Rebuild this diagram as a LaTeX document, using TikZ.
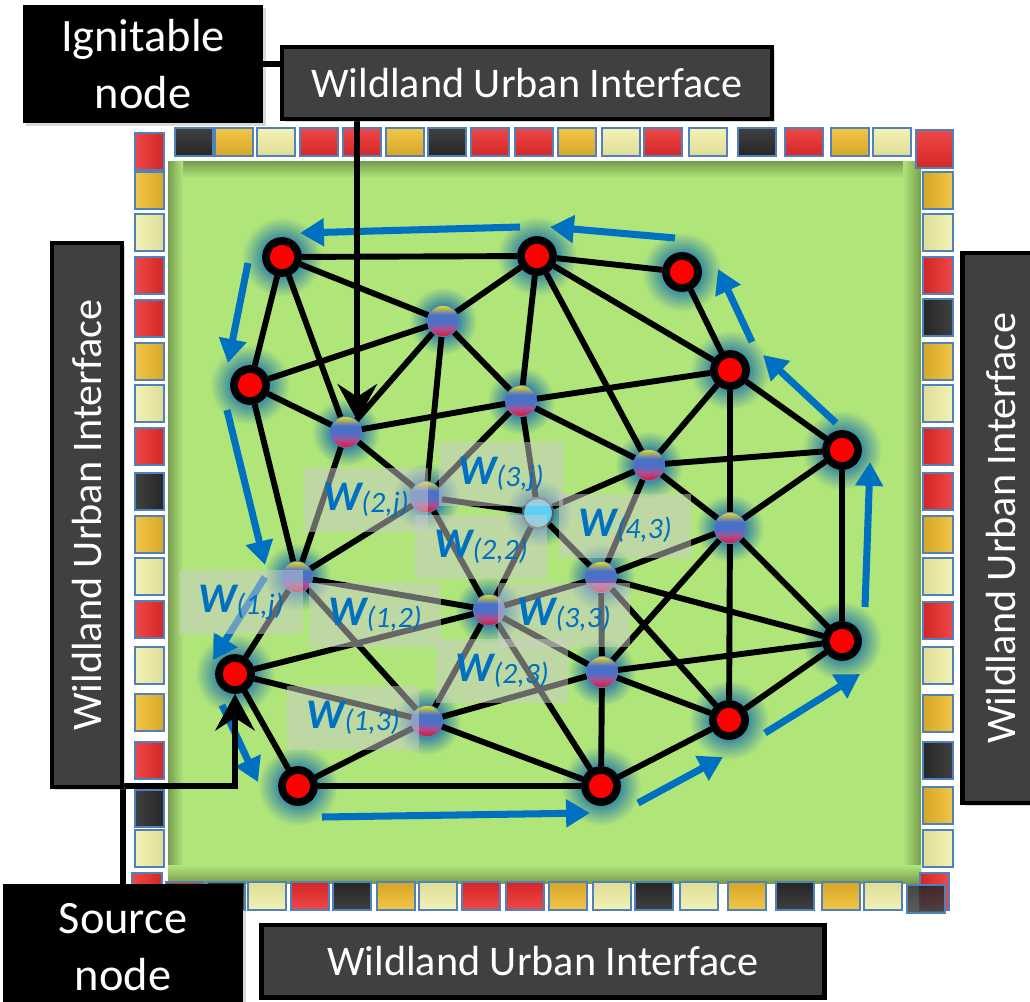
\documentclass[tikz,border=0pt]{standalone}
\usepackage{fontspec}
\setmainfont{Carlito}
\usetikzlibrary{arrows.meta, backgrounds, shadows}

\definecolor{FG}{RGB}{176,229,122}
\definecolor{SG}{RGB}{118,156,78}
\definecolor{HC}{RGB}{62,140,158}
\definecolor{FB}{RGB}{0,112,192}
\definecolor{WG}{RGB}{64,64,64}
\definecolor{TE}{RGB}{79,129,189}
\definecolor{NB}{RGB}{95,208,245}
\definecolor{NE}{RGB}{90,90,90}
\definecolor{LBX}{RGB}{205,205,205}
\definecolor{GY}{RGB}{232,222,30}
\definecolor{GB}{RGB}{75,112,200}
\definecolor{GP}{RGB}{165,80,150}
\definecolor{GR}{RGB}{225,20,45}
\definecolor{rdA}{RGB}{238,72,72}
\definecolor{rdB}{RGB}{212,38,38}
\definecolor{gdA}{RGB}{242,198,72}
\definecolor{gdB}{RGB}{214,166,38}
\definecolor{ltA}{RGB}{242,242,182}
\definecolor{ltB}{RGB}{222,220,150}
\definecolor{dkA}{RGB}{64,64,64}
\definecolor{dkB}{RGB}{38,38,38}

\pgfdeclareverticalshading{ybr}{100bp}{color(0bp)=(GR); color(25bp)=(GR); color(38bp)=(GP); color(48bp)=(GB); color(60bp)=(GB); color(75bp)=(GY); color(100bp)=(GY)}
\pgfdeclareradialshading{halo}{\pgfpoint{0bp}{0bp}}{color(0bp)=(HC); color(12bp)=(HC); color(25bp)=(FG); color(50bp)=(FG)}

\newcommand{\wlab}[1]{{\fontsize{30}{32}\selectfont\bfseries\itshape W}\raisebox{-1.5pt}{\fontsize{21}{24}\selectfont\itshape(#1)}}

\begin{document}
\begin{tikzpicture}[x=0.025cm, y=-0.025cm,
  hot/.style={circle, draw=black, fill=red, line width=5.5pt, minimum size=0.8cm, inner sep=0},
  cool/.style={circle, draw=TE, line width=0.6pt, shading=ybr, minimum size=0.78cm, inner sep=0},
  link/.style={line width=4.2pt, draw=black},
  flow/.style={draw=FB, line width=5pt, -{Triangle[length=17pt, width=19pt]}},
  tile/.style={draw=TE, line width=0.9pt, top color=#1A, bottom color=#1B},
  wbox/.style={fill=LBX, fill opacity=0.5, text opacity=1, text=FB, minimum width=3.3cm, minimum height=1.6cm, inner sep=0},
  wui/.style={fill=WG, draw=black, line width=3pt, text=white, font=\fontsize{30}{36}\selectfont, inner sep=0,
    drop shadow={opacity=0.3, shadow xshift=2pt, shadow yshift=-2pt}},
  tag/.style={fill=black, text=white, align=center, font=\fontsize{33}{40}\selectfont, inner sep=0,
    drop shadow={opacity=0.3, shadow xshift=2pt, shadow yshift=-2pt}},
  callout/.style={line width=4.2pt, draw=black, -{Stealth[length=26pt, width=28pt, inset=9pt]}}
]
\useasboundingbox (0,0) rectangle (1030,1001);
\clip (0,0) rectangle (1030,1001);

% Field with inner shadow
\begin{scope}[on background layer]
\fill[FG] (168,161) rectangle (921,883);
\shade[top color=SG, bottom color=FG] (168,161) rectangle (921,178);
\shade[left color=SG, right color=FG] (168,161) rectangle (183,883);
\shade[left color=FG, right color=SG] (903,161) rectangle (921,883);
\shade[top color=FG, bottom color=SG] (168,865) rectangle (921,883);
\end{scope}

% Interface tiles
\foreach \x/\c in {175/dk,215/gd,257/lt,300/rd,343/rd,386/gd,428/dk,471/rd,515/rd,558/gd,602/lt,644/rd,689/lt,738/dk,785/rd,831/gd,873/lt}
  \draw[tile=\c] (\x,128) rectangle ++(38,28);
\foreach \y/\c in {133/rd,172/gd,214/lt,257/rd,300/rd,343/gd,385/lt,428/rd,473/dk,516/gd,558/lt,601/rd,647/lt,694/gd,742/rd,790/dk,830/lt}
  \draw[tile=\c, shading angle=90] (135,\y) rectangle ++(29,37);
\foreach \y/\c in {172/gd,214/lt,257/rd,299/dk,343/gd,385/lt,428/rd,473/rd,516/gd,558/lt,602/rd,647/lt,695/gd,742/dk,787/gd,830/lt}
  \draw[tile=\c, shading angle=-90] (923,\y) rectangle ++(30,37);
\foreach \x/\c in {166/rd,207/dk,248/lt,291/rd,333/dk,377/gd,419/lt,462/rd,506/rd,549/gd,593/lt,635/dk,680/lt,728/gd,776/dk,822/gd,864/lt}
  \draw[tile=\c, shading angle=180] (\x,882) rectangle ++(38,28);
\draw[tile=rd] (916,130) rectangle ++(37,38);
\draw[tile=rd, shading angle=90] (132,873) rectangle ++(30,37);
\draw[tile=rd, shading angle=-90] (920,873) rectangle ++(29,37);
\draw[tile=dk, shading angle=180, fill opacity=0.85] (907,885) rectangle ++(38,28);

% Graph nodes
\node[hot] (r1) at (282,257) {};
\node[hot] (r2) at (537,256) {};
\node[hot] (r3) at (682,272) {};
\node[hot] (r4) at (250,385) {};
\node[hot] (r5) at (730,370) {};
\node[hot] (r6) at (842,450) {};
\node[hot] (r7) at (235,674) {};
\node[hot] (r8) at (842,641) {};
\node[hot] (r9) at (729,720) {};
\node[hot] (r10) at (298,786) {};
\node[hot] (r11) at (601,786) {};
\node[cool] (g1) at (443,321) {};
\node[cool] (g2) at (346,432) {};
\node[cool] (g3) at (521,401) {};
\node[cool] (g4) at (649,465) {};
\node[cool] (g5) at (426,497) {};
\node[cool] (g6) at (730,528) {};
\node[cool] (g7) at (297,577) {};
\node[cool] (g8) at (601,577) {};
\node[cool] (g9) at (489,610) {};
\node[cool] (g10) at (602,672) {};
\node[cool] (g11) at (427,721) {};
\node[circle, draw=NE, line width=1.5pt, fill=NB, minimum size=0.75cm, inner sep=0] (blu) at (538,513) {};

% Glow
\begin{scope}[on background layer]
\foreach \i in {1,...,11} \shade[shading=halo] (r\i) circle (1cm);
\foreach \i in {1,...,11} \shade[shading=halo] (g\i) circle (0.85cm);
\shade[shading=halo] (blu) circle (0.85cm);
\end{scope}

% Links
\foreach \a/\b in {r1/r2, r1/g1, r1/r4, r1/g2, r4/g1, r4/g2, r4/g7, g2/g1, g2/g3, g2/g5, g2/g7,
  g1/r2, g1/g3, g1/g5, r2/r3, r2/r5, r2/g3, r2/g4, r3/r5, r5/g3, r5/r6, r5/g4, r5/g6,
  r6/g4, r6/g6, r6/r8, g4/g3, g4/blu, g4/g6, g4/g8, g3/blu, g3/g5, g5/blu, g5/g7, g5/g9,
  blu/g9, blu/g8, g7/g9, g7/r7, g7/g11, r7/g9, r7/g11, r7/r10, r10/g11, r10/r11,
  g11/g9, g11/g10, g11/r11, g9/g8, g9/g10, g9/r11, g8/g10, g8/r8, g8/r9, g8/g6,
  g6/g10, g6/r9, g6/r8, g10/r8, g10/r9, g10/r11, r9/r8, r9/r11}
  \draw[link] (\a) -- (\b);

% Spread direction
\foreach \s/\t in {{520,227}/{300,233}, {675,238}/{550,227}, {248,263}/{228,363},
  {227,410}/{265,565}, {265,577}/{213,660}, {222,705}/{258,782}, {322,817}/{590,813},
  {638,803}/{723,757}, {765,733}/{860,674}, {865,607}/{870,462}, {836,423}/{763,355},
  {752,342}/{718,269}}
  \draw[flow] (\s) -- (\t);

% Weights
\node[wbox, minimum width=3.08cm] (w1j) at (241,602) {\wlab{1,j}};
\node[wbox, minimum width=3.08cm] (w2j) at (366,500) {\wlab{2,j}};
\node[wbox, minimum width=3.1cm] (w3j) at (501,474) {\wlab{3,j}};
\node[wbox] (w43) at (625,526) {\wlab{4,3}};
\node[wbox] (w22) at (481,547) {\wlab{2,2}};
\node[wbox] (w12) at (375,615) {\wlab{1,2}};
\node[wbox] (w33) at (564,615) {\wlab{3,3}};
\node[wbox] (w23) at (502,671) {\wlab{2,3}};
\node[wbox] (w13) at (353,718) {\wlab{1,3}};

% Callouts
\node[tag, minimum width=6cm, minimum height=2.95cm] (ign) at (143,64) {Ignitable\\node};
\node[tag, minimum width=6cm, minimum height=3.15cm] (src) at (123,947) {Source\\node};
\draw[callout] (ign.east) -| (g2.north east);
\draw[callout] (src.north) |- (r7.south |- r10) -- (r7.south);

% Interface labels
\node[wui, minimum width=12.25cm, minimum height=1.8cm] (wtop) at (527,83) {Wildland Urban Interface};
\node[wui, minimum width=14.07cm, minimum height=1.82cm] (wbot) at (543,961) {Wildland Urban Interface};
\node[wui, rotate=90, minimum width=13.6cm, minimum height=1.75cm] (wleft) at (87,515) {Wildland Urban Interface};
\node[wui, rotate=90, minimum width=13.75cm, minimum height=1.92cm] (wright) at (1001,528) {Wildland Urban Interface};
\end{tikzpicture}
\end{document}
